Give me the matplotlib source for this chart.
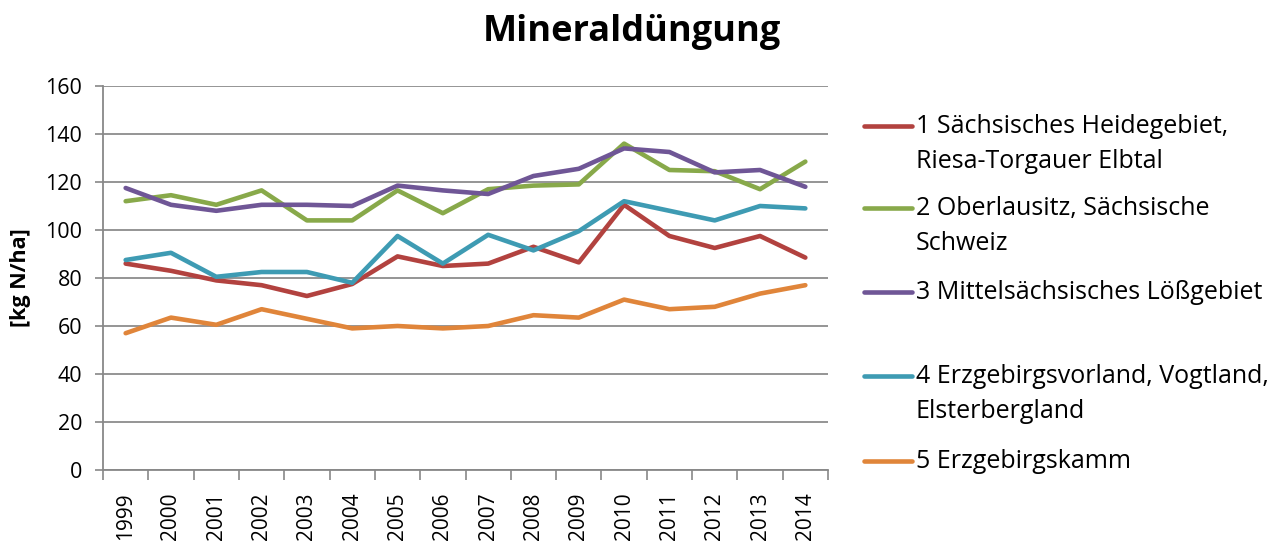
import matplotlib.pyplot as plt
from matplotlib.lines import Line2D

plt.rcParams['font.family'] = ['Open Sans', 'DejaVu Sans']

years = [str(y) for y in range(1999, 2015)]

heidegebiet = [86, 83, 79, 77, 72.5, 77.5, 89, 85, 86, 93, 86.5, 110.5, 97.5, 92.5, 97.5, 88.5]
oberlausitz = [112, 114.5, 110.5, 116.5, 104, 104, 116.5, 107, 117, 118.5, 119, 136, 125, 124.5, 117, 128.5]
loessgebiet = [117.5, 110.5, 108, 110.5, 110.5, 110, 118.5, 116.5, 115, 122.5, 125.5, 134, 132.5, 124, 125, 118]
vorland = [87.5, 90.5, 80.5, 82.5, 82.5, 78, 97.5, 86, 98, 91.5, 99.5, 112, 108, 104, 110, 109]
kamm = [57, 63.5, 60.5, 67, 63, 59, 60, 59, 60, 64.5, 63.5, 71, 67, 68, 73.5, 77]

series = [heidegebiet, oberlausitz, loessgebiet, vorland, kamm]
labels = [
    "1 Sächsisches Heidegebiet,\nRiesa-Torgauer Elbtal",
    "2 Oberlausitz, Sächsische\nSchweiz",
    "3 Mittelsächsisches Lößgebiet",
    "4 Erzgebirgsvorland, Vogtland,\nElsterbergland",
    "5 Erzgebirgskamm",
]
colors = ["#B2423F", "#88A94A", "#6F5696", "#3E9BB3", "#E0853A"]

fig = plt.figure(figsize=(12.8, 5.5), dpi=100)
ax = fig.add_axes([103 / 1280, 80 / 550, 725 / 1280, 384 / 550])

x = list(range(len(years)))
for vals, c in zip(series, colors):
    ax.plot(x, vals, color=c, lw=3.3, solid_capstyle='round', solid_joinstyle='round')

ax.set_xlim(-0.5, len(years) - 0.5)
ax.set_ylim(0, 160)
ax.set_yticks(range(0, 161, 20))
ax.set_xticks(x)
ax.set_xticklabels(years, rotation=90, fontsize=15)
ax.set_xticks([i - 0.5 for i in range(len(years) + 1)], minor=True)
ax.tick_params(axis='x', which='major', length=0, pad=16)
ax.tick_params(axis='x', which='minor', length=7, color='#888888', width=1.2)
ax.tick_params(axis='y', length=6, color='#888888', width=1.2, labelsize=15.5, pad=9)
ax.grid(axis='y', color='#8c8c8c', lw=1.3)
ax.set_axisbelow(True)
for side in ('top', 'right'):
    ax.spines[side].set_visible(False)
for side in ('left', 'bottom'):
    ax.spines[side].set_color('#888888')
    ax.spines[side].set_linewidth(1.3)

ax.set_ylabel("[kg N/ha]", fontsize=15.5, fontweight='bold')
ax.yaxis.set_label_coords(-72 / 725, 0.5)
fig.text(632 / 1280, 1 - 32 / 550, "Mineraldüngung", ha='center', va='center',
         fontsize=26, fontweight='bold')

# legend drawn by hand, Excel style (handle aligned with first text line)
legend_y = [126, 208, 292, 376, 461]
line_step = 35
for ly, lab, c in zip(legend_y, labels, colors):
    yf = 1 - ly / 550
    fig.add_artist(Line2D([864 / 1280, 912 / 1280], [yf, yf], color=c, lw=3.3,
                          solid_capstyle='round', transform=fig.transFigure))
    for k, part in enumerate(lab.split("\n")):
        fig.text(916 / 1280, 1 - (ly + 7 + k * line_step) / 550, part,
                 ha='left', va='baseline', fontsize=18)

fig.savefig("out.png", dpi=100)
